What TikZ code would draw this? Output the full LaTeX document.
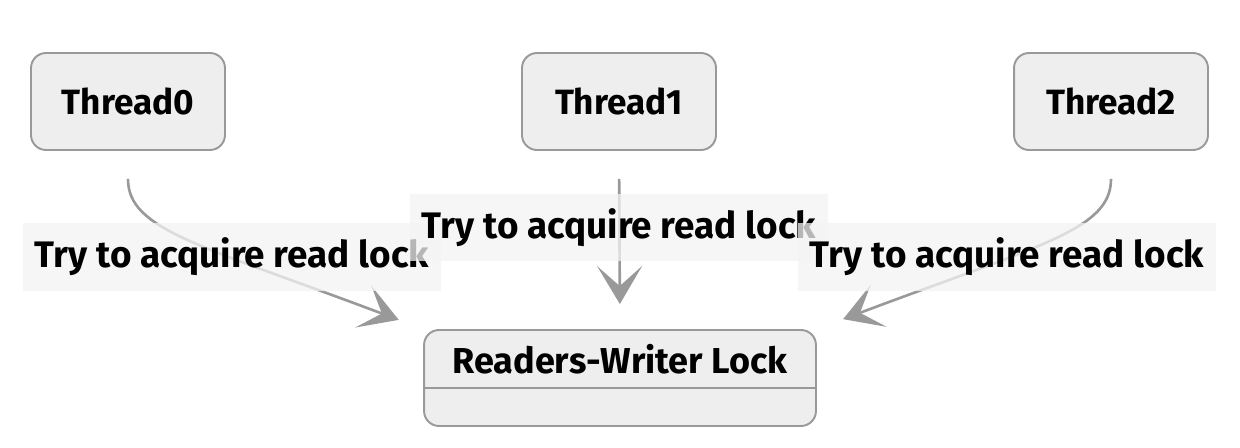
\documentclass[tikz,border=0pt]{standalone}
\usepackage{fontspec}
\setmainfont{Fira Sans}
\usetikzlibrary{arrows.meta}
\definecolor{boxfill}{HTML}{EEEEEE}
\definecolor{boxline}{HTML}{999999}
\definecolor{textbg}{HTML}{F3F3F3}

\begin{document}
\begin{tikzpicture}[
 x=0.02cm,y=-0.02cm,
 font=\fontsize{20}{24}\selectfont\bfseries,
 align=center,
 thread/.style={draw=boxline,fill=boxfill,line width=1.1pt,rounded corners=0.3cm,minimum width=3.88cm,minimum height=1.94cm},
 lockbox/.style={draw=boxline,fill=boxfill,line width=1.1pt,rounded corners=0.3cm,minimum width=7.84cm,minimum height=1.92cm},
 link/.style={draw=boxline,line width=1.5pt,shorten <=0.56cm,-{Stealth[length=0.76cm,width=0.9cm,inset=0.4cm]}},
 edgetext/.style={fill=textbg,fill opacity=0.75,text opacity=1,minimum width=8.38cm,minimum height=1.36cm,inner sep=0pt,font=\fontsize{21}{25}\selectfont\bfseries}
]
\useasboundingbox (0,0) rectangle (1240,448);
\node (thread0) [thread] at (128,101.5) {Thread0};
\node (thread1) [thread] at (619,101.5) {Thread1};
\node (thread2) [thread] at (1111,101.5) {Thread2};
\node (lock) [lockbox] at (620,378) {};
\node (lock-title) [font=\fontsize{20.5}{24}\selectfont\bfseries] at (620,359) {Readers-Writer Lock};
\draw [draw=boxline,line width=1.1pt] (lock.west |- 0,388) -- (lock.east |- 0,388);
% requests
\draw [link,shorten >=0.52cm] (thread0.south) .. controls (128,230) and (200,245) .. (lock.north west);
\draw [link,shorten >=0.5cm] (thread1.south) -- (lock.north);
\draw [link,shorten >=0.56cm] (thread2.south) .. controls (1111,230) and (1040,245) .. (lock.north east);
\node (text0) [edgetext] at (232,257) {Try to acquire read lock};
\node (text1) [edgetext] at (619,227.5) {Try to acquire read lock};
\node (text2) [edgetext] at (1007,257) {Try to acquire read lock};
\end{tikzpicture}
\end{document}
